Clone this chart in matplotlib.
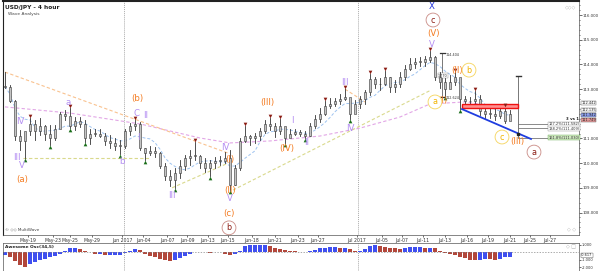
import numpy as np
import pandas as pd
import matplotlib
matplotlib.use("Agg")
import matplotlib.pyplot as plt
from matplotlib.patches import Rectangle

highs = [113.69, 113.17, 112.56, 111.34, 111.14, 111.85, 111.75, 111.85, 111.55, 111.55,
         111.55, 112.07, 112.15, 112.23, 111.87, 111.87, 111.75, 111.39, 111.39, 111.39,
         111.22, 111.14, 111.02, 110.94, 111.39, 111.63, 111.75, 111.67, 110.61, 110.69,
         110.65, 110.45, 110.00, 109.72, 109.80, 110.13, 110.33, 110.53, 110.86, 110.33,
         110.21, 110.13, 110.25, 110.29, 110.45, 110.53, 109.93, 111.02, 111.50, 111.14,
         111.22, 111.43, 111.75, 111.83, 111.63, 111.80, 111.39, 111.39, 111.39, 111.34,
         111.30, 111.63, 111.95, 112.23, 112.52, 112.64, 112.64, 112.80, 113.00, 112.56,
         112.56, 112.72, 112.96, 113.61, 113.49, 113.45, 113.73, 113.49, 113.37, 113.69,
         113.98, 114.26, 114.26, 114.30, 114.34, 114.54, 114.34, 113.69, 113.45, 113.57,
         113.69, 113.45, 112.72, 112.68, 112.92, 112.76, 112.36, 112.23, 112.31, 112.23,
         112.27, 112.15]
lows = [113.04, 112.48, 110.94, 110.53, 110.20, 111.14, 110.94, 111.14, 110.94, 110.74,
        110.94, 111.43, 111.75, 111.43, 111.34, 111.47, 110.86, 110.78, 111.10, 111.06,
        110.74, 110.61, 110.53, 110.37, 110.61, 111.14, 111.34, 110.53, 110.13, 110.33,
        110.25, 109.80, 109.32, 109.08, 109.00, 109.40, 109.72, 109.93, 110.13, 109.80,
        109.64, 109.48, 109.80, 109.93, 110.00, 108.91, 109.12, 109.72, 110.86, 110.74,
        110.82, 110.94, 111.22, 111.34, 111.06, 111.18, 110.82, 111.06, 111.14, 111.10,
        111.02, 111.10, 111.43, 111.67, 111.95, 112.23, 112.31, 112.40, 112.56, 111.79,
        112.03, 112.23, 112.40, 112.76, 113.04, 112.96, 113.17, 112.88, 112.88, 113.08,
        113.37, 113.77, 113.85, 113.93, 113.93, 114.10, 113.37, 113.04, 112.72, 113.04,
        113.17, 112.20, 112.23, 112.40, 112.44, 111.95, 111.83, 111.83, 111.75, 111.83,
        111.63, 111.75]
closes = [113.10, 112.50, 111.10, 110.90, 111.30, 111.60, 111.30, 111.50, 111.20, 111.00,
          111.40, 112.00, 111.90, 111.50, 111.70, 111.60, 111.00, 111.20, 111.20, 111.10,
          110.90, 110.80, 110.70, 110.70, 111.30, 111.50, 111.60, 110.60, 110.40, 110.50,
          110.40, 109.90, 109.50, 109.30, 109.60, 109.90, 110.20, 110.30, 110.30, 110.00,
          109.80, 110.00, 110.10, 110.10, 110.20, 109.10, 109.80, 110.90, 111.10, 111.00,
          111.10, 111.30, 111.60, 111.50, 111.30, 111.50, 111.00, 111.20, 111.25, 111.20,
          111.10, 111.50, 111.80, 112.00, 112.30, 112.40, 112.50, 112.60, 112.70, 112.00,
          112.40, 112.60, 112.90, 113.40, 113.20, 113.20, 113.50, 113.10, 113.20, 113.50,
          113.80, 114.00, 114.10, 114.10, 114.20, 114.30, 113.50, 113.30, 113.00, 113.30,
          113.50, 112.60, 112.50, 112.50, 112.60, 112.10, 112.00, 112.00, 111.90, 112.10,
          111.70, 112.00]

# Awesome Oscillator (34,5)
ao = [-0.4, -0.6, -1.2, -1.7, -2.0, -1.6, -1.3, -1.1, -0.9, -0.7,
      -0.5, -0.3, 0.2, 0.6, 0.6, 0.4, 0.2, 0.0, -0.3, -0.3,
      -0.4, -0.4, -0.4, -0.4, -0.1, 0.2, 0.4, 0.3, -0.3, -0.5,
      -0.7, -0.9, -1.1, -1.2, -1.1, -0.8, -0.5, -0.2, 0.05, 0.0,
      0.02, -0.1, 0.0, 0.03, -0.2, -0.4, -0.2, 0.2, 0.8, 0.9,
      0.9, 0.95, 1.0, 0.8, 0.6, 0.4, 0.3, 0.2, 0.1, 0.0,
      0.02, 0.1, 0.3, 0.5, 0.6, 0.7, 0.7, 0.6, 0.6, 0.4,
      0.1, 0.2, 0.4, 0.8, 0.9, 0.8, 0.7, 0.6, 0.5, 0.4,
      0.5, 0.7, 0.7, 0.72, 0.6, 0.6, 0.5, 0.2, -0.1, -0.3,
      -0.4, -0.6, -0.8, -1.0, -1.1, -1.0, -0.9, -0.95, -1.0, -0.9,
      -0.7, -0.6]

# long moving average (pink)
slow_ma_x = [0, 13, 27, 39, 45, 53, 63, 71, 79, 85, 92, 101]
slow_ma_y = [112.28, 112.03, 111.59, 111.02, 110.82, 110.90, 111.10, 111.42, 111.87, 112.40, 112.48, 112.23]

# trendlines
orange_tl = ([0, 44.6], [113.69, 110.41])
orange_tl2 = ([68, 72], [113.00, 112.48])
olive_flat = ([3.6, 29], [110.20, 110.20])
olive_tl1 = ([33.4, 44.6], [109.00, 110.00])
olive_tl2 = ([45.6, 85], [108.91, 112.94])
blue_tl = ([91.4, 105.2], [112.19, 110.98])
red_zone = (91.4, 102.6, 112.23, 112.40)

date_ticks = [4.6, 9.6, 13, 17.4, 23.4, 27.6, 32.4, 36.4, 40.6, 44.6, 49.4, 54, 58.6,
              62.6, 70.4, 75.4, 79.4, 83.6, 88, 92.4, 96.6, 101, 105, 109]
date_labels = ['May-19', 'May-23', 'May-25', 'May-29', 'Jun 2017', 'Jun-04', 'Jun-07',
               'Jun-09', 'Jun-13', 'Jun-15', 'Jun-18', 'Jun-21', 'Jun-23', 'Jun-27',
               'Jul 2017', 'Jul-05', 'Jul-07', 'Jul-11', 'Jul-13', 'Jul-16', 'Jul-19',
               'Jul-21', 'Jul-25', 'Jul-27']
month_lines = [23.8, 70.6]
price_ticks = [108, 109, 110, 111, 113, 114, 115, 116]

high_marks = [5, 13, 26, 38, 48, 53, 55, 64, 68, 73, 76, 85, 90, 94, 100]
low_marks = [4, 9, 13, 16, 23, 28, 34, 41, 45, 56, 60, 69, 88, 91]

ORANGE = '#f47b20'
PURPLE = '#b48ef2'
DRED = '#8c1c13'
YELLOW = '#f2b400'

n = len(closes)
idx = np.arange(n)
opens = [closes[0]] + closes[:-1]

fig = plt.figure(figsize=(6, 2.71), dpi=100)
ax = fig.add_axes([0.005, 36 / 271, 0.96, 234 / 271])
osc = fig.add_axes([0.005, 0.0, 0.96, 28 / 271])

# price bars
for i in range(n):
    ax.plot([i, i], [lows[i], highs[i]], color='#333333', lw=0.6, zorder=4)
    lo, hi = min(opens[i], closes[i]), max(opens[i], closes[i])
    ax.add_patch(Rectangle((i - 0.25, lo), 0.5, max(hi - lo, 0.02), fc='#c4c4c4',
                           ec='#333333', lw=0.4, zorder=5))

# moving averages
fast_ma = pd.Series(closes).rolling(6, min_periods=1).mean()
ax.plot(idx, fast_ma, color='#9ec3f0', lw=0.7, ls=(0, (3, 2)), zorder=2)
ax.plot(slow_ma_x, slow_ma_y, color='#e2a6e6', lw=0.8, ls=(0, (3, 2)), zorder=2)

# trendlines
for (tx, ty), col in [(orange_tl, '#f9c28f'), (orange_tl2, '#f9c28f'),
                      (olive_flat, '#d9d98c'), (olive_tl1, '#d9d98c'),
                      (olive_tl2, '#d9d98c')]:
    ax.plot(tx, ty, color=col, lw=0.8, ls=(0, (3, 2)), zorder=2)

ax.add_patch(Rectangle((red_zone[0], red_zone[2]), red_zone[1] - red_zone[0],
                       red_zone[3] - red_zone[2], fc='#ff9090', ec='#ee1111', lw=1.0, zorder=6))
ax.plot(*blue_tl, color='#1f3de0', lw=1.3, zorder=6)

# fib measurement
ax.plot([102.6, 102.6], [111.06, 113.53], color='#777777', lw=0.7, zorder=3)
ax.plot([102.1, 103.1], [113.53, 113.53], color='#333333', lw=1.0, zorder=3)
ax.plot([102.6], [111.2], marker='s', ms=2, color='#222222', zorder=7)
for lvl in [111.58, 111.41, 111.03]:
    ax.plot([102.6, 108.6], [lvl, lvl], color='#777777', lw=0.6, zorder=3)
ax.text(108.7, 111.58, '127.2%(111.582)', fontsize=2.6, va='center', color='#333333',
        bbox=dict(boxstyle='square,pad=0.15', fc='white', ec='#888888', lw=0.3))
ax.text(108.7, 111.40, '138.2%(111.409)', fontsize=2.6, va='center', color='#333333',
        bbox=dict(boxstyle='square,pad=0.15', fc='white', ec='#888888', lw=0.3))
ax.text(108.7, 111.03, '161.8%(111.030)', fontsize=2.6, va='center', color='#333333',
        bbox=dict(boxstyle='square,pad=0.15', fc='#cfe8c0', ec='#66aa55', lw=0.3))
ax.text(112.2, 111.78, '3 vs 1', fontsize=2.8, va='center', color='#222222', fontweight='bold')

ax.plot([87.4, 87.4], [112.7, 114.46], color='#777777', lw=0.7, zorder=3)
ax.plot([86.9, 87.9], [114.46, 114.46], color='#333333', lw=0.9, zorder=3)
ax.plot([86.9, 87.9], [112.7, 112.7], color='#333333', lw=0.9, zorder=3)
ax.text(88.2, 114.40, '114.404', fontsize=2.4, va='center', color='#333333')
ax.text(86.6, 113.55, '1.770', fontsize=2.4, va='center', color='#333333',
        bbox=dict(boxstyle='square,pad=0.15', fc='white', ec='#888888', lw=0.3))
ax.text(88.2, 112.65, '112.624', fontsize=2.4, va='center', color='#333333')

# swing markers
ax.scatter([i for i in high_marks], [highs[i] + 0.08 for i in high_marks], marker='v',
           s=7, color=DRED, zorder=8, linewidths=0)
ax.scatter([i for i in low_marks], [lows[i] - 0.08 for i in low_marks], marker='^',
           s=7, color='#1a6e1a', zorder=8, linewidths=0)

# wave labels
plain_labels = [
    ('(a)', 3.4, 109.32, ORANGE), ('(b)', 26.4, 112.64, ORANGE), ('(c)', 44.8, 107.98, ORANGE),
    ('(I)', 45, 110.13, ORANGE), ('(II)', 45, 108.91, ORANGE), ('(III)', 52.4, 112.44, ORANGE),
    ('(IV)', 56.4, 110.58, ORANGE), ('(V)', 85.6, 115.27, ORANGE), ('(I)', 87.6, 112.52, ORANGE),
    ('(II)', 90.4, 113.77, ORANGE), ('(III)', 102.4, 110.86, ORANGE),
    ('IV', 3, 111.67, PURPLE), ('III', 2.4, 110.21, PURPLE), ('V', 3.4, 109.89, PURPLE),
    ('a', 12.6, 112.44, PURPLE), ('b', 23.4, 110.05, PURPLE), ('C', 26.4, 112.03, PURPLE),
    ('II', 28.2, 111.95, PURPLE), ('I', 26.6, 111.06, PURPLE), ('III', 33.4, 108.71, PURPLE),
    ('IV', 44, 110.62, PURPLE), ('V', 45, 108.55, PURPLE), ('I', 57.4, 111.71, PURPLE),
    ('II', 60.4, 110.82, PURPLE), ('III', 68, 113.25, PURPLE), ('IV', 69, 111.42, PURPLE),
    ('V', 85.4, 114.79, PURPLE), ('X', 85.4, 116.36, '#2233dd'),
]
for txt, x, y, col in plain_labels:
    ax.text(x, y, txt, color=col, fontsize=6.2, ha='center', va='center', zorder=9)

circled = [('c', 85.6, 115.80, DRED, '#c98a84'), ('b', 44.8, 107.38, DRED, '#c98a84'),
           ('a', 105.8, 110.45, DRED, '#c98a84'), ('a', 86.0, 112.48, YELLOW, '#f5d45a'),
           ('b', 92.8, 113.77, YELLOW, '#f5d45a'), ('c', 99.4, 111.06, YELLOW, '#f5d45a')]
for txt, x, y, col, ec in circled:
    ax.text(x, y, txt, color=col, fontsize=5.8, ha='center', va='center', zorder=9,
            bbox=dict(boxstyle='circle,pad=0.3', fc='white', ec=ec, lw=0.6))

# month separators
for m in month_lines:
    ax.axvline(m, color='#aaaaaa', lw=0.7, ls=(0, (1, 1)), zorder=1)
    osc.axvline(m, color='#aaaaaa', lw=0.7, ls=(0, (1, 1)), zorder=1)

ax.set_xlim(-0.4, 114.8)
ax.set_ylim(107.09, 116.57)
ax.yaxis.tick_right()
ax.set_yticks(price_ticks)
ax.set_yticklabels(['%.3f' % v for v in price_ticks])
ax.set_yticks(np.arange(107.2, 116.6, 0.2), minor=True)
ax.tick_params(axis='y', labelsize=2.8, length=2, width=0.5, pad=0.6, colors='#333333')
ax.tick_params(axis='y', which='minor', length=1, width=0.4)
ax.set_xticks(date_ticks)
ax.set_xticklabels(date_labels)
ax.tick_params(axis='x', labelsize=3.3, length=1.5, width=0.5, pad=1, colors='#333333')
for s in ['left', 'top']:
    ax.spines[s].set_color('#222222')
ax.spines['top'].set_linewidth(1.5)
ax.spines['left'].set_linewidth(0.8)
ax.spines['right'].set_color('#555555')
ax.spines['right'].set_linewidth(0.5)
ax.spines['bottom'].set_color('#555555')
ax.spines['bottom'].set_linewidth(0.5)

# current price boxes on the axis
for lvl, txt, fc in [(112.44, '112.442', 'white'), (112.15, '112.135', 'white'),
                     (111.95, '111.942', '#8ea0ee'), (111.75, '111.749', '#e89a9a')]:
    ax.text(1.004, (lvl - 107.09) / (116.57 - 107.09), txt, transform=ax.transAxes,
            fontsize=2.6, va='center', ha='left', color='#222222',
            bbox=dict(boxstyle='square,pad=0.1', fc=fc, ec='#555555', lw=0.3))

ax.text(0.004, 0.985, 'USD/JPY - 4 hour', transform=ax.transAxes, fontsize=4.2,
        fontweight='bold', va='top', color='#222222')
ax.text(0.008, 0.955, 'Wave Analysis', transform=ax.transAxes, fontsize=3.2,
        va='top', color='#444444')
ax.text(0.004, 0.015, '\u00a9 \u25c7\u25c7 MultiWave', transform=ax.transAxes, fontsize=3.0,
        va='bottom', color='#444444')
ax.text(0.995, 0.985, '\u25c7\u25c7\u25c7', transform=ax.transAxes, fontsize=3.5,
        va='top', ha='right', color='#aaaaaa')
ax.text(0.995, 0.015, '\u25c7 \u25c7', transform=ax.transAxes, fontsize=3.5,
        va='bottom', ha='right', color='#aaaaaa')

# oscillator
ao_arr = np.array(ao)
ao_cols = ['#3f4ff0' if i == 0 or ao_arr[i] >= ao_arr[i - 1] else '#b2473b' for i in range(n)]
osc.bar(idx, ao_arr, width=0.9, color=ao_cols, linewidth=0)
osc.axhline(0, color='#888888', lw=0.5, ls=(0, (2, 2)))
osc.set_xlim(-0.4, 114.8)
osc.set_ylim(-2.53, 1.2)
osc.yaxis.tick_right()
osc.set_yticks([1, -1, -2])
osc.set_yticklabels(['1.000', '-1.000', '-2.000'])
osc.tick_params(axis='y', labelsize=2.6, length=1.5, width=0.5, pad=0.6, colors='#333333')
osc.set_xticks([])
osc.text(1.004, (-0.45 + 2.53) / 3.73, '-0.617', transform=osc.transAxes, fontsize=2.5,
         va='center', color='#222222',
         bbox=dict(boxstyle='round,pad=0.1', fc='white', ec='#555555', lw=0.3))
osc.text(0.004, 0.85, 'Awesome Osc(34,5)', transform=osc.transAxes, fontsize=3.2,
         fontweight='bold', va='center', color='#222222')
osc.text(0.995, 0.85, '\u25c7 \u25a1', transform=osc.transAxes, fontsize=3.5,
         va='center', ha='right', color='#aaaaaa')
for s in osc.spines.values():
    s.set_color('#555555')
    s.set_linewidth(0.5)

fig.savefig('out.png', dpi=100)
